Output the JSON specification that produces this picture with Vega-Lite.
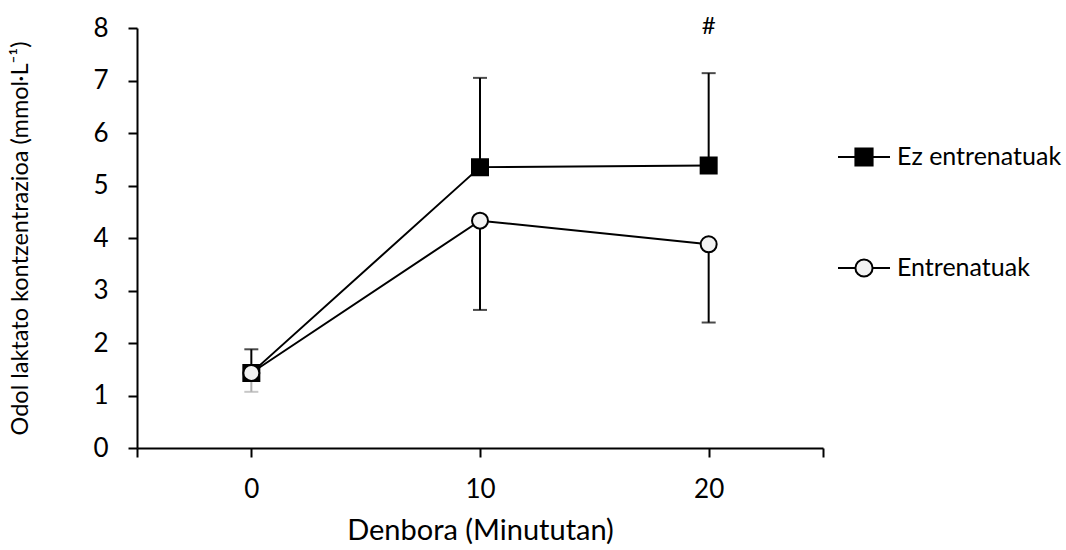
{
  "$schema": "https://vega.github.io/schema/vega-lite/v6.json",
  "width": 686,
  "height": 420,
  "autosize": "none",
  "padding": {"left": 137, "top": 28, "right": 243, "bottom": 102},
  "background": "white",
  "config": {
    "font": "Lato",
    "view": {"stroke": null},
    "axis": {
      "grid": false,
      "domainColor": "black",
      "domainWidth": 2,
      "tickColor": "black",
      "tickWidth": 2,
      "tickSize": 9,
      "labelFont": "Lato",
      "labelFontSize": 26,
      "labelColor": "black",
      "titleFont": "Lato",
      "titleFontWeight": "normal",
      "titleColor": "black"
    },
    "legend": {
      "labelFont": "Lato",
      "labelFontSize": 25,
      "labelColor": "black",
      "labelLimit": 400,
      "padding": 0,
      "symbolSize": 2704,
      "symbolStrokeWidth": 2,
      "labelOffset": 6
    }
  },
  "datasets": {
    "main": [
      {"t": 0, "g": "Ez entrenatuak", "m": 1.43, "cap": 1.88},
      {"t": 10, "g": "Ez entrenatuak", "m": 5.35, "cap": 7.05},
      {"t": 20, "g": "Ez entrenatuak", "m": 5.38, "cap": 7.14},
      {"t": 0, "g": "Entrenatuak", "m": 1.43, "cap": 1.07},
      {"t": 10, "g": "Entrenatuak", "m": 4.33, "cap": 2.63},
      {"t": 20, "g": "Entrenatuak", "m": 3.88, "cap": 2.39}
    ],
    "notes": [
      {"t": 20, "y": 8, "label": "#"}
    ]
  },
  "resolve": {"scale": {"fill": "independent", "stroke": "independent"}, "legend": {"fill": "independent", "stroke": "independent"}},
  "layer": [
    {
      "data": {"name": "main"},
      "mark": {"type": "rule", "strokeWidth": 2},
      "encoding": {
        "x": {"field": "t", "type": "quantitative"},
        "y": {"field": "m", "type": "quantitative"},
        "y2": {"field": "cap"},
        "color": {
          "condition": {"test": "datum.t === 0 && datum.g === 'Entrenatuak'", "value": "#b0b0b0"},
          "value": "black"
        }
      }
    },
    {
      "data": {"name": "main"},
      "mark": {"type": "point", "shape": "M-1,0H1", "size": 196, "strokeWidth": 2, "filled": false},
      "encoding": {
        "x": {"field": "t", "type": "quantitative"},
        "y": {"field": "cap", "type": "quantitative"},
        "color": {
          "condition": {"test": "datum.t === 0 && datum.g === 'Entrenatuak'", "value": "#b0b0b0"},
          "value": "black"
        }
      }
    },
    {
      "data": {"name": "main"},
      "mark": {"type": "line", "color": "black", "strokeWidth": 2},
      "encoding": {
        "x": {"field": "t", "type": "quantitative"},
        "y": {"field": "m", "type": "quantitative"},
        "detail": {"field": "g"}
      }
    },
    {
      "data": {"name": "main"},
      "mark": {"type": "point", "filled": true, "stroke": "black", "strokeWidth": 2, "opacity": 1, "size": 256},
      "encoding": {
        "x": {
          "field": "t",
          "type": "quantitative",
          "scale": {"domain": [-5, 25], "nice": false, "zero": false},
          "axis": {
            "values": [-5, 0, 10, 20, 25],
            "labelExpr": "datum.value === -5 || datum.value === 25 ? '' : datum.label",
            "labelPadding": 19,
            "title": "Denbora (Minututan)",
            "titleFontSize": 29,
            "titlePadding": 14
          }
        },
        "y": {
          "field": "m",
          "type": "quantitative",
          "scale": {"domain": [0, 8], "nice": false},
          "axis": {
            "values": [0, 1, 2, 3, 4, 5, 6, 7, 8],
            "labelPadding": 20,
            "title": "Odol laktato kontzentrazioa (mmol·L⁻¹)",
            "titleFontSize": 23.5,
            "titlePadding": 60
          }
        },
        "shape": {
          "condition": {"test": "datum.g === 'Ez entrenatuak'", "value": "square"},
          "value": "circle"
        },
        "fill": {
          "condition": {"test": "datum.g === 'Ez entrenatuak'", "value": "black"},
          "value": "#f2f2f2"
        }
      }
    },
    {
      "data": {"name": "main"},
      "transform": [{"filter": "datum.g === 'Ez entrenatuak' && datum.t < 0"}],
      "mark": {"type": "point", "filled": true, "stroke": "black", "strokeWidth": 2, "opacity": 1},
      "encoding": {
        "x": {"field": "t", "type": "quantitative"},
        "y": {"field": "m", "type": "quantitative"},
        "fill": {
          "field": "g",
          "type": "nominal",
          "scale": {"domain": ["Ez entrenatuak"], "range": ["black"]},
          "legend": {
            "title": null,
            "orient": "none",
            "legendX": 700,
            "legendY": 102,
            "symbolType": "M-1,0H-0.33M0.33,0H1M-0.33,-0.33H0.33V0.33H-0.33Z",
            "symbolStrokeColor": "black",
            "symbolStrokeWidth": 2
          }
        }
      }
    },
    {
      "data": {"name": "main"},
      "transform": [{"filter": "datum.g === 'Entrenatuak' && datum.t < 0"}],
      "mark": {"type": "point", "filled": true, "fill": "#f2f2f2", "strokeWidth": 2, "opacity": 1},
      "encoding": {
        "x": {"field": "t", "type": "quantitative"},
        "y": {"field": "m", "type": "quantitative"},
        "stroke": {
          "field": "g",
          "type": "nominal",
          "scale": {"domain": ["Entrenatuak"], "range": ["black"]},
          "legend": {
            "title": null,
            "orient": "none",
            "legendX": 700,
            "legendY": 213,
            "symbolType": "M-1,0H-0.33M0.33,0H1M0.33,0A0.33,0.33,0,1,1,-0.33,0A0.33,0.33,0,1,1,0.33,0Z",
            "symbolFillColor": "#f2f2f2",
            "symbolStrokeWidth": 2
          }
        }
      }
    },
    {
      "data": {"name": "notes"},
      "mark": {"type": "text", "font": "Lato", "fontSize": 24, "color": "black", "baseline": "middle", "dy": -1},
      "encoding": {
        "x": {"field": "t", "type": "quantitative"},
        "y": {"field": "y", "type": "quantitative"},
        "text": {"field": "label"}
      }
    }
  ]
}
